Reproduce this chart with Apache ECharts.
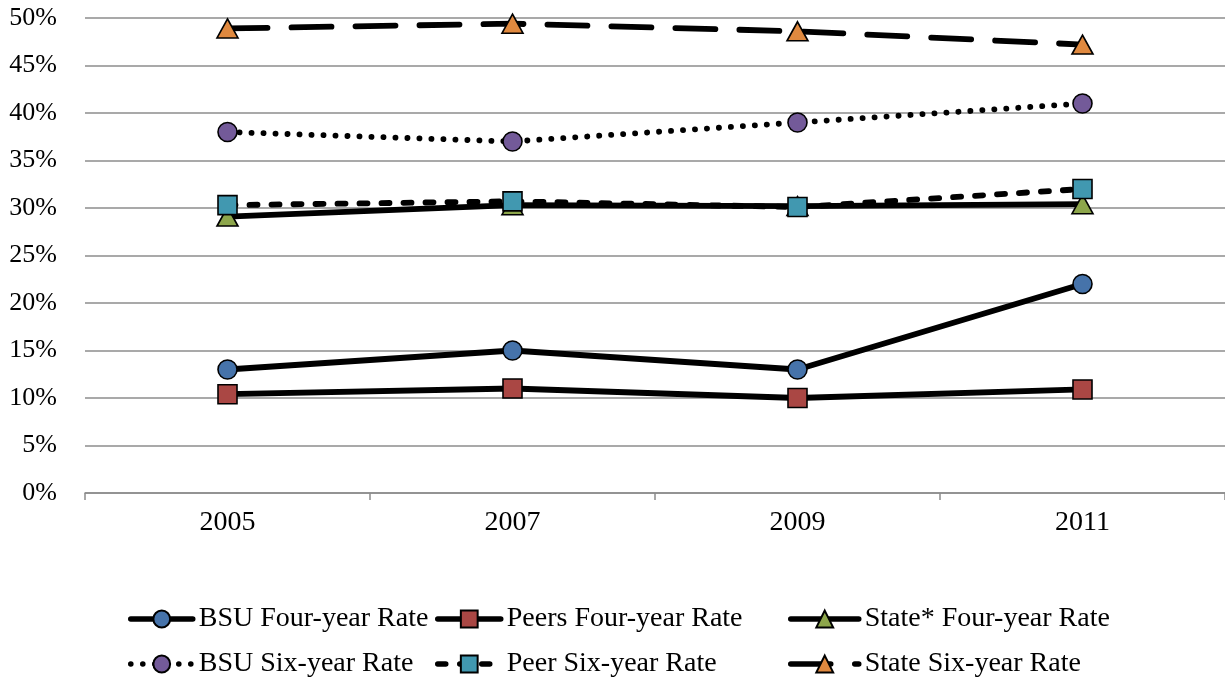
<!DOCTYPE html>
<html>
<head>
<meta charset="utf-8">
<script src="https://cdn.jsdelivr.net/npm/echarts@6/dist/echarts.min.js"></script>
<style>
  html, body { margin: 0; padding: 0; background: #fff; }
  #chart { width: 1225px; height: 681px; }
</style>
</head>
<body>
<div id="chart"></div>
<script>
// Graduation rates by cohort year
const years = ['2005', '2007', '2009', '2011'];
const bsuFour = [13, 15, 13, 22];
const peersFour = [10.4, 11, 10, 10.9];
const stateFour = [29.1, 30.3, 30.2, 30.4];
const bsuSix = [38, 37, 39, 41];
const peerSix = [30.3, 30.7, 30.1, 32];
const stateSix = [48.9, 49.4, 48.6, 47.2];
const yTicks = [0, 5, 10, 15, 20, 25, 30, 35, 40, 45, 50];

const FONT = '"Liberation Serif", "Times New Roman", serif';
const LINE_W = 5.8;

function lineSeries(name, data, symbol, color, dash) {
  return {
    name: name,
    type: 'line',
    data: data,
    symbol: symbol,
    symbolSize: symbol === 'triangle' ? [21, 19] : 19,
    showAllSymbol: true,
    lineStyle: { color: '#000', width: LINE_W, type: dash, cap: 'round' },
    itemStyle: { color: color, borderColor: '#000', borderWidth: 1.6 },
    emphasis: { disabled: true },
    animation: false,
    z: 2
  };
}

const series = [
  lineSeries('BSU Four-year Rate', bsuFour, 'circle', '#4673AA', 'solid'),
  lineSeries('Peers Four-year Rate', peersFour, 'rect', '#AA4744', 'solid'),
  lineSeries('State* Four-year Rate', stateFour, 'triangle', '#8DA64B', 'solid'),
  lineSeries('BSU Six-year Rate', bsuSix, 'circle', '#735A99', [0.1, 11.9]),
  lineSeries('Peer Six-year Rate', peerSix, 'rect', '#4198B0', [8, 14]),
  lineSeries('State Six-year Rate', stateSix, 'triangle', '#E0893F', [40, 24])
];

// one legend per entry so the two rows line up in columns
const legendPos = [
  [128, 605, 62], [435, 605, 63], [788, 605, 68],
  [128, 650, 62], [435, 650, 63], [788, 650, 68]
];
const legends = series.map((s, i) => ({
  data: [s.name],
  left: legendPos[i][0],
  top: legendPos[i][1],
  padding: 0,
  itemWidth: legendPos[i][2],
  itemHeight: 21,
  itemGap: 0,
  selectedMode: false,
  lineStyle: { width: 5.5, type: 'inherit', cap: 'round' },
  textStyle: { fontFamily: FONT, fontSize: 28, color: '#000', padding: [0, 0, 0, 1] }
}));

const chart = echarts.init(document.getElementById('chart'), null, { renderer: 'canvas' });
chart.setOption({
  backgroundColor: '#fff',
  animation: false,
  grid: { left: 85, right: 0, top: 18, bottom: 188, containLabel: false },
  legend: legends,
  xAxis: {
    type: 'category',
    data: years,
    boundaryGap: true,
    axisLine: { show: true, lineStyle: { color: '#8c8c8c', width: 1.5 } },
    axisTick: { show: true, length: 7, alignWithLabel: false, lineStyle: { color: '#8c8c8c', width: 1.5 } },
    axisLabel: { fontFamily: FONT, fontSize: 28, color: '#000', margin: 16 },
    splitLine: { show: false }
  },
  yAxis: {
    type: 'value',
    min: yTicks[0],
    max: yTicks[yTicks.length - 1],
    interval: 5,
    axisLine: { show: false },
    axisTick: { show: false },
    axisLabel: { fontFamily: FONT, fontSize: 26, color: '#000', margin: 28, formatter: v => v + '%' },
    splitLine: { show: true, lineStyle: { color: '#8c8c8c', width: 1.5 } }
  },
  series: series
});
</script>
</body>
</html>
